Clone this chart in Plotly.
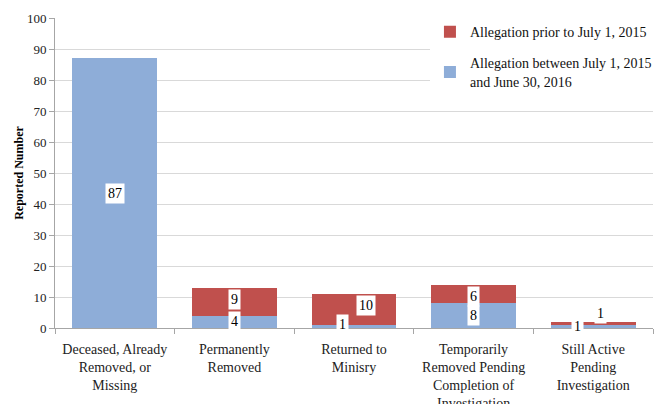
import plotly.graph_objects as go

categories = [
    "Deceased, Already<br>Removed, or<br>Missing",
    "Permanently<br>Removed",
    "Returned to<br>Minisry",
    "Temporarily<br>Removed Pending<br>Completion of<br>Investigation",
    "Still Active<br>Pending<br>Investigation",
]
between_vals = [87, 4, 1, 8, 1]
prior_vals = [0, 9, 10, 6, 1]
between_name = "Allegation between July 1, 2015<br>and June 30, 2016"
prior_name = "Allegation prior to July 1, 2015"
y_ticks = [0, 10, 20, 30, 40, 50, 60, 70, 80, 90, 100]

# label shifts to avoid overlaps (pixels)
between_shift = [(0, 0), (0, 0), (-12, 2), (0, 0), (-16, 0)]
prior_shift = [(0, 0), (0, 2), (12, 4), (0, -3), (7, 10)]

BLUE = "#8EADD8"
RED = "#C0504D"
FONT = "'Liberation Serif', 'Times New Roman', serif"

fig = go.Figure()
fig.add_trace(go.Bar(x=categories, y=between_vals, name=between_name, legendgroup="b",
                     legendrank=2, marker=dict(color=BLUE, line=dict(width=0))))
fig.add_trace(go.Bar(x=categories, y=prior_vals, name=prior_name, legendgroup="a",
                     legendrank=1, marker=dict(color=RED, line=dict(width=0))))

annotations = []
for i, c in enumerate(categories):
    b = between_vals[i]
    p = prior_vals[i]
    if b > 0:
        annotations.append(dict(x=c, y=b / 2, text=str(b), showarrow=False,
                                xshift=between_shift[i][0], yshift=between_shift[i][1],
                                bgcolor="white", borderpad=2,
                                font=dict(family=FONT, size=14, color="#000")))
    if p > 0:
        annotations.append(dict(x=c, y=b + p / 2, text=str(p), showarrow=False,
                                xshift=prior_shift[i][0], yshift=prior_shift[i][1],
                                bgcolor="white", borderpad=2,
                                font=dict(family=FONT, size=14, color="#000")))

fig.update_layout(
    width=662, height=404,
    barmode="stack", bargap=0.29,
    paper_bgcolor="white", plot_bgcolor="white",
    margin=dict(l=55, r=9, t=18, b=76, autoexpand=False),
    font=dict(family=FONT, size=14, color="#222"),
    showlegend=True,
    legend=dict(x=0.627, y=1.006, xanchor="left", yanchor="top",
                bgcolor="white", traceorder="grouped",
                font=dict(family=FONT, size=14, color="#111"),
                itemwidth=30, tracegroupgap=10),
    annotations=annotations,
    xaxis=dict(tickson="boundaries", ticks="outside", ticklen=5, tickcolor="#A6A6A6",
               showline=True, linecolor="#A6A6A6", linewidth=1,
               tickangle=0, automargin=False, ticklabelstandoff=8,
               tickfont=dict(family=FONT, size=14, color="#222")),
    yaxis=dict(range=[0, 100], tickvals=y_ticks, ticks="outside", ticklen=5,
               tickcolor="#A6A6A6", showline=True, linecolor="#A6A6A6",
               gridcolor="#D9D9D9", zeroline=False, automargin=False,
               tickfont=dict(family=FONT, size=13, color="#222"),
               title=dict(text="<b>Reported Number</b>", standoff=0,
                          font=dict(family=FONT, size=12, color="#000"))),
)

fig.write_html("out.html", config={"displayModeBar": False},
               post_script="document.body.style.margin='0';document.body.style.padding='0';")
